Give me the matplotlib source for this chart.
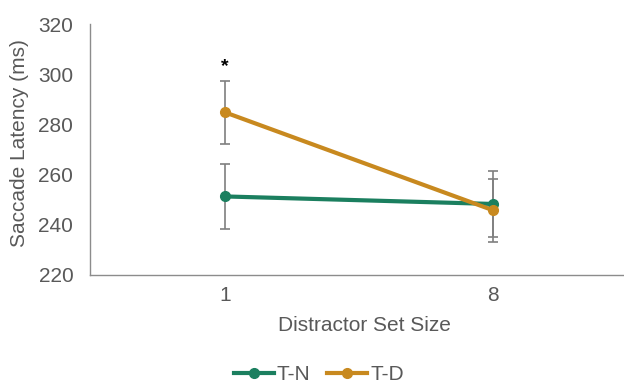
import matplotlib
matplotlib.use('Agg')
import numpy as np
import matplotlib.pyplot as plt

set_sizes = ['1', '8']
tn_mean = [251.3, 248.3]
tn_err = [13.0, 13.1]
td_mean = [284.8, 245.8]
td_err = [12.6, 12.5]
star_value = 303.0

GREEN = '#1b7f5f'
GOLD = '#c8891f'
GRAY = '#595959'
FS = 15

plt.rcParams['font.family'] = ['Liberation Sans', 'DejaVu Sans']

fig = plt.figure(figsize=(6.24, 3.83), dpi=100)
ax = fig.add_axes([90 / 624, 1 - 275 / 383, 1 - 90 / 624, (275 - 24) / 383])

x = np.arange(len(set_sizes))
for m, e in [(tn_mean, tn_err), (td_mean, td_err)]:
    ax.errorbar(x, m, yerr=e, fmt='none', ecolor='#7f7f7f',
                elinewidth=1.2, capsize=3.5, capthick=1.2, zorder=2)
ax.plot(x, tn_mean, color=GREEN, lw=3, marker='o', ms=7, label='T-N', zorder=3)
ax.plot(x, td_mean, color=GOLD, lw=3, marker='o', ms=7, label='T-D', zorder=4)

ax.text(x[0], star_value, '*', ha='center', va='center', fontsize=14,
        fontweight='bold', color='black')

ax.set_ylim(220, 320)
ax.set_yticks(np.arange(220, 321, 20))
ax.set_xlim(-0.504, 1.489)
ax.set_xticks(x)
ax.set_xticklabels(set_sizes)

for s in ['top', 'right']:
    ax.spines[s].set_visible(False)
for s in ['left', 'bottom']:
    ax.spines[s].set_color('#8c8c8c')
    ax.spines[s].set_linewidth(1.0)
ax.tick_params(axis='both', length=0, labelsize=FS, colors=GRAY)
ax.tick_params(axis='y', pad=12)
ax.tick_params(axis='x', pad=8)

ax.set_xlabel('Distractor Set Size', fontsize=FS, color=GRAY)
ax.set_ylabel('Saccade Latency (ms)', fontsize=FS, color=GRAY)
ax.xaxis.set_label_coords(0.513, -0.163)
ax.yaxis.set_label_coords(-0.114, 0.526)

leg = fig.legend(loc='center', bbox_to_anchor=(319 / 624, 1 - 375 / 383),
                 ncol=2, frameon=False, fontsize=FS, handlelength=1.9,
                 columnspacing=0.8, handletextpad=0.15)
for t in leg.get_texts():
    t.set_color(GRAY)

fig.savefig('out.png', dpi=100)
